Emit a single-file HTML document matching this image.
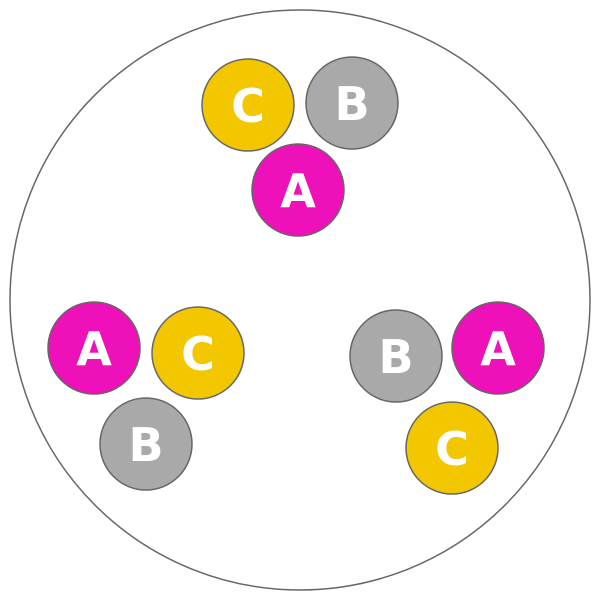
<!DOCTYPE html>
<html><head><style>html,body{margin:0;padding:0;background:#fff}</style></head>
<body>
<svg width="600" height="600" viewBox="0 0 600 600" xmlns="http://www.w3.org/2000/svg">
<circle cx="300" cy="300" r="290" fill="#fff" stroke="#666" stroke-width="1.5"/>
<g stroke="#666" stroke-width="1.5" font-family="DejaVu Sans, sans-serif" font-weight="bold" font-size="46" text-anchor="middle" fill="#fff">
<circle cx="248" cy="105" r="46" fill="#F2C700"/>
<circle cx="352" cy="103" r="46" fill="#A8A9A8"/>
<circle cx="298" cy="190" r="46" fill="#EE10B8"/>
<circle cx="94" cy="348" r="46" fill="#EE10B8"/>
<circle cx="198" cy="353" r="46" fill="#F2C700"/>
<circle cx="146" cy="444" r="46" fill="#A8A9A8"/>
<circle cx="396" cy="356" r="46" fill="#A8A9A8"/>
<circle cx="498" cy="348" r="46" fill="#EE10B8"/>
<circle cx="452" cy="448" r="46" fill="#F2C700"/>
</g>
<g font-family="DejaVu Sans, sans-serif" font-weight="bold" font-size="46" text-anchor="middle" fill="#fff">
<text x="248" y="122">C</text>
<text x="352" y="120">B</text>
<text x="298" y="207">A</text>
<text x="94" y="365">A</text>
<text x="198" y="370">C</text>
<text x="146" y="461">B</text>
<text x="396" y="373">B</text>
<text x="498" y="365">A</text>
<text x="452" y="465">C</text>
</g>
</svg>
</body></html>
